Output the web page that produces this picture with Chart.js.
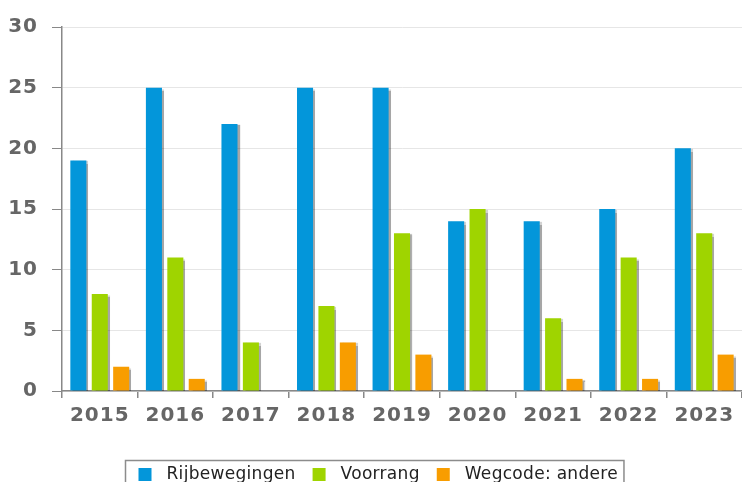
<!DOCTYPE html>
<html>
<head>
<meta charset="utf-8">
<script src="https://cdn.jsdelivr.net/npm/chart.js@4"></script>
<style>
  html, body { margin: 0; padding: 0; background: #fff; }
  #wrap { width: 742px; height: 482px; }
</style>
</head>
<body>
<div id="wrap"><canvas id="chart" width="742" height="482"></canvas></div>
<script>
// Data
const years = ['2015', '2016', '2017', '2018', '2019', '2020', '2021', '2022', '2023'];
const rijbewegingen = [19, 25, 22, 25, 25, 14, 14, 15, 20];
const voorrang = [8, 11, 4, 7, 13, 15, 6, 11, 13];
const wegcodeAndere = [2, 1, 0, 4, 3, 0, 1, 1, 3];

const AXIS_FONT = '"DejaVu Sans", sans-serif';

// Shadow behind bars
const barShadow = {
    id: 'barShadow',
    beforeDatasetsDraw(chart) {
        const ctx = chart.ctx;
        ctx.save();
        ctx.shadowColor = 'rgba(0,0,0,0.35)';
        ctx.shadowOffsetX = 2;
        ctx.shadowOffsetY = 1;
        ctx.shadowBlur = 1;
    },
    afterDatasetsDraw(chart) {
        chart.ctx.restore();
    }
};

// Slightly spaced axis text
const spacedText = {
    id: 'spacedText',
    beforeDraw(chart) {
        chart.ctx.letterSpacing = '1px';
    },
    afterDraw(chart) {
        chart.ctx.letterSpacing = '0px';
    }
};

// Legend in a box at the bottom
const boxLegend = {
    id: 'boxLegend',
    afterDraw(chart) {
        const ctx = chart.ctx;
        ctx.save();
        ctx.letterSpacing = '0.3px';
        ctx.font = '17px ' + AXIS_FONT;
        ctx.textBaseline = 'middle';
        const items = chart.data.datasets.map(ds => ({
            label: ds.label,
            color: ds.backgroundColor,
            w: ctx.measureText(ds.label).width
        }));
        const sq = 13, gapText = 15, gapItem = 17, padL = 13, padR = 6;
        let total = padL + padR;
        items.forEach((it, i) => {
            total += sq + gapText + it.w + (i < items.length - 1 ? gapItem : 0);
        });
        const left = Math.round(374 - total / 2) + 0.5;
        const top = 460.5;
        ctx.strokeStyle = '#8c8c8c';
        ctx.lineWidth = 1.5;
        ctx.strokeRect(left, top, total, 40);
        let x = left + padL;
        const cy = 474;
        items.forEach(it => {
            ctx.fillStyle = it.color;
            ctx.fillRect(x, cy - 6, sq, sq);
            x += sq + gapText;
            ctx.fillStyle = '#222';
            ctx.textAlign = 'left';
            ctx.fillText(it.label, x, cy + 1);
            x += it.w + gapItem;
        });
        ctx.restore();
    }
};

const ctx = document.getElementById('chart').getContext('2d');
new Chart(ctx, {
    type: 'bar',
    data: {
        labels: years,
        datasets: [
            { label: 'Rijbewegingen', data: rijbewegingen, backgroundColor: '#0396da' },
            { label: 'Voorrang', data: voorrang, backgroundColor: '#9fd400' },
            { label: 'Wegcode: andere', data: wegcodeAndere, backgroundColor: '#f89d00' }
        ]
    },
    options: {
        responsive: false,
        animation: false,
        layout: { padding: { top: 27, right: 0, bottom: 60, left: 0 } },
        datasets: {
            bar: { categoryPercentage: 0.85, barPercentage: 0.75 }
        },
        plugins: {
            legend: { display: false },
            tooltip: { enabled: false }
        },
        scales: {
            x: {
                offset: true,
                grid: {
                    offset: true,
                    drawOnChartArea: false,
                    tickLength: 7,
                    tickColor: '#888',
                    lineWidth: 1.5
                },
                border: { color: '#888', width: 1.5 },
                ticks: {
                    color: '#666',
                    font: { family: AXIS_FONT, size: 20, weight: 'bold' },
                    padding: 6,
                    maxRotation: 0
                },
                afterFit(axis) { axis.height = 31; }
            },
            y: {
                min: 0,
                max: 30,
                ticks: {
                    stepSize: 5,
                    color: '#666',
                    font: { family: AXIS_FONT, size: 20, weight: 'bold' },
                    padding: 14
                },
                grid: {
                    color: '#e6e6e6',
                    tickColor: '#888',
                    tickLength: 10
                },
                border: { color: '#888', width: 1.5 },
                afterFit(axis) { axis.width = 62; }
            }
        }
    },
    plugins: [barShadow, spacedText, boxLegend]
});
</script>
</body>
</html>
